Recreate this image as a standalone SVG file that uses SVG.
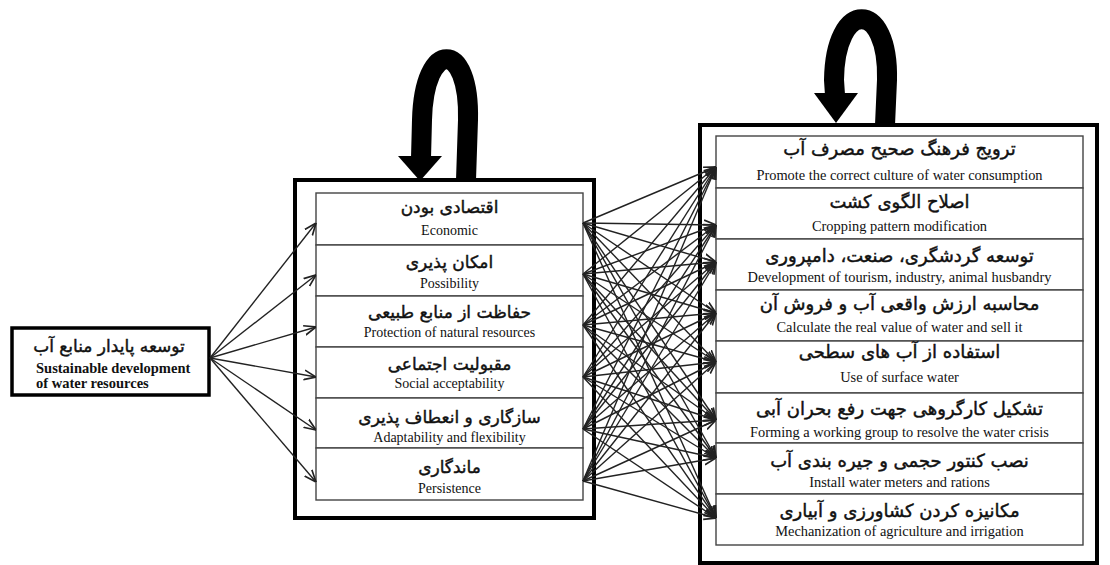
<svg xmlns="http://www.w3.org/2000/svg" width="1110" height="565" viewBox="0 0 1110 565">
<style>
.bg{fill:#fff}
.outer{fill:#fff;stroke:#000;stroke-width:4}
.cell{fill:#fff;stroke:#444;stroke-width:1.4}
.lbox{fill:#fff;stroke:#000;stroke-width:3.5}
.fa{font-family:"DejaVu Sans",sans-serif;font-size:17px;fill:#111;stroke:#111;stroke-width:0.45;text-anchor:middle}
.fa.r{font-size:18px}
.en{font-family:"Liberation Serif","Times New Roman",serif;font-size:14px;fill:#111;text-anchor:middle}
.en.r{font-size:14.4px}
.enb{font-family:"Liberation Serif","Times New Roman",serif;font-size:14.5px;font-weight:bold;fill:#111}
.loop{fill:none;stroke:#000;stroke-width:20}
.head{fill:#000}
.con line{stroke:#222;stroke-width:1.4;marker-end:url(#arr)}
</style>
<defs>
<marker id="arr" viewBox="0 0 10 10" refX="10" refY="5" markerWidth="12" markerHeight="12" markerUnits="userSpaceOnUse" orient="auto">
<path d="M0,1 L10,5 L0,9" fill="none" stroke="#222" stroke-width="1.4"/>
</marker>
</defs>
<rect class="bg" x="0" y="0" width="1110" height="565"/>

<g id="loop-middle">
<path class="loop" d="M466,180 L468,120 C470,39 424,39 422,120 L421,158"/>
<polygon class="head" points="398,156 442,156 420,181"/>
</g>
<g id="loop-right">
<path class="loop" d="M885,125 L887,80 C889,-1 835,-1 834,80 L835,95"/>
<polygon class="head" points="814,93 858,93 836,123"/>
</g>

<g id="middle-container"><rect class="outer" x="295" y="180" width="299" height="338"/></g>
<g id="right-container"><rect class="outer" x="700" y="125" width="397" height="438"/></g>

<g id="source">
<rect class="lbox" x="12" y="328" width="197" height="67"/>
<text class="fa" x="109" y="352">توسعه پایدار منابع آب</text>
<text class="enb" x="36" y="373">Sustainable development</text>
<text class="enb" x="36" y="388">of water resources</text>
</g>

<g id="m1"><rect class="cell" x="316" y="193" width="267" height="52"/><text class="fa" x="449.5" y="213">اقتصادی بودن</text><text class="en" x="449.5" y="235">Economic</text></g>
<g id="m2"><rect class="cell" x="316" y="245" width="267" height="51"/><text class="fa" x="449.5" y="268">امکان پذیری</text><text class="en" x="449.5" y="288">Possibility</text></g>
<g id="m3"><rect class="cell" x="316" y="296" width="267" height="51"/><text class="fa" x="449.5" y="318">حفاظت از منابع طبیعی</text><text class="en" x="449.5" y="337">Protection of natural resources</text></g>
<g id="m4"><rect class="cell" x="316" y="347" width="267" height="51"/><text class="fa" x="449.5" y="370">مقبولیت اجتماعی</text><text class="en" x="449.5" y="388">Social acceptability</text></g>
<g id="m5"><rect class="cell" x="316" y="398" width="267" height="50"/><text class="fa" x="449.5" y="423">سازگاری و انعطاف پذیری</text><text class="en" x="449.5" y="442">Adaptability and flexibility</text></g>
<g id="m6"><rect class="cell" x="316" y="448" width="267" height="52"/><text class="fa" x="449.5" y="473">ماندگاری</text><text class="en" x="449.5" y="493">Persistence</text></g>

<g id="r1"><rect class="cell" x="716" y="136" width="367" height="52"/><text class="fa r" x="899.5" y="155">ترویج فرهنگ صحیح مصرف آب</text><text class="en r" x="899.5" y="180">Promote the correct culture of water consumption</text></g>
<g id="r2"><rect class="cell" x="716" y="188" width="367" height="51"/><text class="fa r" x="899.5" y="208">اصلاح الگوی کشت</text><text class="en r" x="899.5" y="231">Cropping pattern modification</text></g>
<g id="r3"><rect class="cell" x="716" y="239" width="367" height="51"/><text class="fa r" x="899.5" y="262">توسعه گردشگری، صنعت، دامپروری</text><text class="en r" x="899.5" y="282">Development of tourism, industry, animal husbandry</text></g>
<g id="r4"><rect class="cell" x="716" y="290" width="367" height="51"/><text class="fa r" x="899.5" y="310">محاسبه ارزش واقعی آب و فروش آن</text><text class="en r" x="899.5" y="332">Calculate the real value of water and sell it</text></g>
<g id="r5"><rect class="cell" x="716" y="341" width="367" height="52"/><text class="fa r" x="899.5" y="358">استفاده از آب های سطحی</text><text class="en r" x="899.5" y="382">Use of surface water</text></g>
<g id="r6"><rect class="cell" x="716" y="393" width="367" height="50"/><text class="fa r" x="899.5" y="415">تشکیل کارگروهی جهت رفع بحران آبی</text><text class="en r" x="899.5" y="437">Forming a working group to resolve the water crisis</text></g>
<g id="r7"><rect class="cell" x="716" y="443" width="367" height="51"/><text class="fa r" x="899.5" y="467">نصب کنتور حجمی و جیره بندی آب</text><text class="en r" x="899.5" y="487">Install water meters and rations</text></g>
<g id="r8"><rect class="cell" x="716" y="494" width="367" height="51"/><text class="fa r" x="899.5" y="517">مکانیزه کردن کشاورزی و آبیاری</text><text class="en r" x="899.5" y="536">Mechanization of agriculture and irrigation</text></g>

<g id="connectors" class="con">
<line x1="210" y1="358" x2="316" y2="223"/>
<line x1="210" y1="358" x2="316" y2="275"/>
<line x1="210" y1="358" x2="316" y2="327"/>
<line x1="210" y1="358" x2="316" y2="377"/>
<line x1="210" y1="358" x2="316" y2="430"/>
<line x1="210" y1="358" x2="316" y2="482"/>

<line x1="583" y1="223" x2="716" y2="167"/><line x1="583" y1="223" x2="716" y2="225"/><line x1="583" y1="223" x2="716" y2="262"/><line x1="583" y1="223" x2="716" y2="313"/><line x1="583" y1="223" x2="716" y2="362"/><line x1="583" y1="223" x2="716" y2="420"/><line x1="583" y1="223" x2="716" y2="458"/><line x1="583" y1="223" x2="716" y2="518"/>
<line x1="583" y1="274" x2="716" y2="167"/><line x1="583" y1="274" x2="716" y2="225"/><line x1="583" y1="274" x2="716" y2="262"/><line x1="583" y1="274" x2="716" y2="313"/><line x1="583" y1="274" x2="716" y2="362"/><line x1="583" y1="274" x2="716" y2="420"/><line x1="583" y1="274" x2="716" y2="458"/><line x1="583" y1="274" x2="716" y2="518"/>
<line x1="583" y1="325" x2="716" y2="167"/><line x1="583" y1="325" x2="716" y2="225"/><line x1="583" y1="325" x2="716" y2="262"/><line x1="583" y1="325" x2="716" y2="313"/><line x1="583" y1="325" x2="716" y2="362"/><line x1="583" y1="325" x2="716" y2="420"/><line x1="583" y1="325" x2="716" y2="458"/><line x1="583" y1="325" x2="716" y2="518"/>
<line x1="583" y1="377" x2="716" y2="167"/><line x1="583" y1="377" x2="716" y2="225"/><line x1="583" y1="377" x2="716" y2="262"/><line x1="583" y1="377" x2="716" y2="313"/><line x1="583" y1="377" x2="716" y2="362"/><line x1="583" y1="377" x2="716" y2="420"/><line x1="583" y1="377" x2="716" y2="458"/><line x1="583" y1="377" x2="716" y2="518"/>
<line x1="583" y1="429" x2="716" y2="167"/><line x1="583" y1="429" x2="716" y2="225"/><line x1="583" y1="429" x2="716" y2="262"/><line x1="583" y1="429" x2="716" y2="313"/><line x1="583" y1="429" x2="716" y2="362"/><line x1="583" y1="429" x2="716" y2="420"/><line x1="583" y1="429" x2="716" y2="458"/><line x1="583" y1="429" x2="716" y2="518"/>
<line x1="583" y1="481" x2="716" y2="167"/><line x1="583" y1="481" x2="716" y2="225"/><line x1="583" y1="481" x2="716" y2="262"/><line x1="583" y1="481" x2="716" y2="313"/><line x1="583" y1="481" x2="716" y2="362"/><line x1="583" y1="481" x2="716" y2="420"/><line x1="583" y1="481" x2="716" y2="458"/><line x1="583" y1="481" x2="716" y2="518"/>
</g>
</svg>
